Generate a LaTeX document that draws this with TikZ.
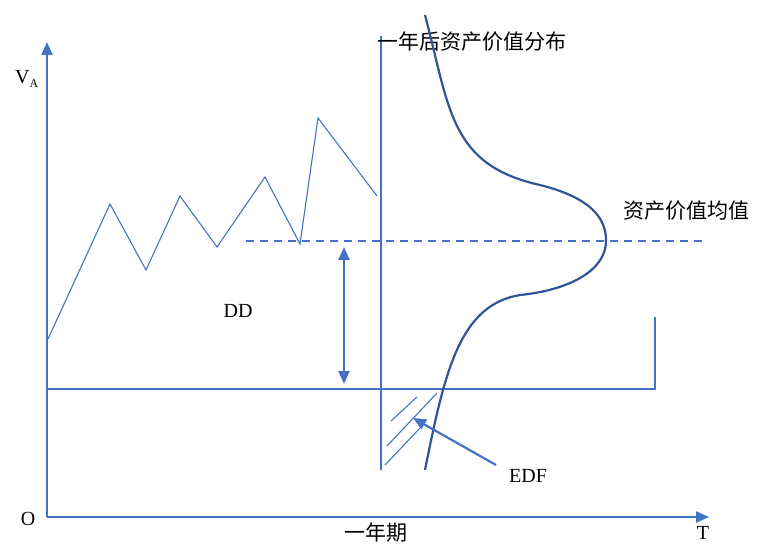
\documentclass[tikz,border=0pt]{standalone}
\usepackage{fontspec}
\setmainfont{Liberation Serif}
\newfontfamily\cjk{Noto Sans CJK SC}
\usetikzlibrary{arrows.meta}
\definecolor{axisblue}{RGB}{68,114,196}
\definecolor{curveblue}{RGB}{47,85,151}

\begin{document}
\begin{tikzpicture}[
  x=1pt, y=-1pt,
  font=\fontsize{20}{22}\selectfont,
  >={Triangle[length=13pt,width=11pt]},
  thinline/.style={axisblue, line width=1.1pt},
  axisline/.style={->, axisblue, line width=2.2pt},
  lbl/.style={inner sep=0pt, anchor=center},
  cjklbl/.style={lbl, font=\cjk\fontsize{21}{24}\selectfont}
]
\useasboundingbox (0,0) rectangle (778,545);
% axes
\coordinate (O) at (47,517);
\coordinate (ytop) at (47,42);
\coordinate (xend) at (709,517);
\draw[axisline] (O) -- (ytop);
\draw[axisline] (O) -- (xend);
\node[lbl] (va) at (27,79) {V\textsubscript{\fontsize{12}{12}\selectfont A}};
\node[lbl] (o) at (28,519) {O};
\node[lbl] (t) at (703,533) {T};
\node[cjklbl] (year) at (376,533) {一年期};
% asset value path
\draw[thinline] (48,339) -- (110,204) -- (146,270) -- (180,196) -- (217,247)
  -- (265,177) -- (300,244) -- (318,118) -- (377,196);
% one-year line and default point
\coordinate (vt) at (381,36);
\coordinate (vb) at (381,470);
\draw[thinline] (vt) -- (vb);
\coordinate (dl) at (48,389);
\coordinate (dr) at (655,389);
\coordinate (du) at (655,317);
\draw[thinline] (dl) -- (dr) -- (du);
\node[cjklbl] (distr) at (472,42) {一年后资产价值分布};
% mean line
\coordinate (ml) at (246,241);
\coordinate (mr) at (704,241);
\draw[axisblue, line width=1.4pt, dash pattern=on 8pt off 6pt] (ml) -- (mr);
\node[cjklbl] (mean) at (686,211) {资产价值均值};
% distance to default
\coordinate (ddt) at (344,247);
\coordinate (ddb) at (344,384);
\draw[<->, axisblue, line width=2.2pt] (ddt) -- (ddb);
\node[lbl] (dd) at (238,311) {DD};
% distribution
\draw[curveblue, line width=2.2pt] (425,15) .. controls (450,110) and (450,165) .. (540,185)
  .. controls (600,200) and (606,225) .. (606,241)
  .. controls (606,270) and (570,290) .. (520,295)
  .. controls (460,305) and (445,370) .. (425,470);
% hatching
\draw[thinline] (391,421) -- (417,397);
\draw[thinline] (387,446) -- (437,393);
\draw[thinline] (385,465) -- (420,428);
% EDF
\node[lbl] (edf) at (528,476) {EDF};
\coordinate (edftail) at (496,465);
\coordinate (edftip) at (413,418);
\draw[->, axisblue, line width=2.2pt] (edftail) -- (edftip);
\end{tikzpicture}
\end{document}
